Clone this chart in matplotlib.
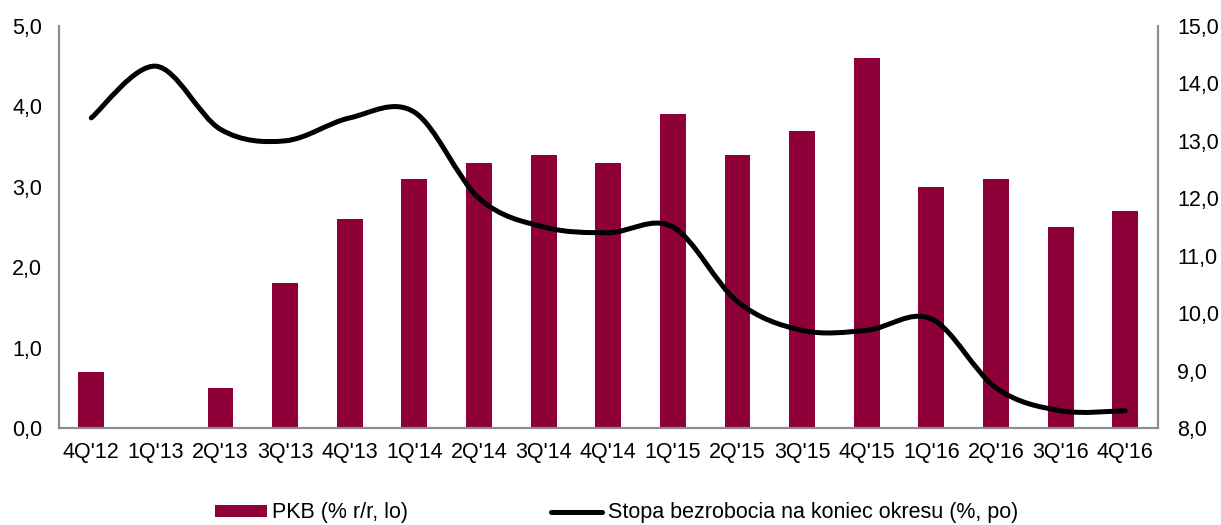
import matplotlib
matplotlib.use("Agg")
import matplotlib.pyplot as plt
from matplotlib.path import Path
from matplotlib.patches import PathPatch, Patch
from matplotlib.lines import Line2D
import numpy as np

plt.rcParams['font.family'] = ['Liberation Sans', 'DejaVu Sans']

categories = ["4Q'12", "1Q'13", "2Q'13", "3Q'13", "4Q'13", "1Q'14", "2Q'14", "3Q'14",
              "4Q'14", "1Q'15", "2Q'15", "3Q'15", "4Q'15", "1Q'16", "2Q'16", "3Q'16", "4Q'16"]
gdp = [0.7, 0.0, 0.5, 1.8, 2.6, 3.1, 3.3, 3.4, 3.3, 3.9, 3.4, 3.7, 4.6, 3.0, 3.1, 2.5, 2.7]
unemployment = [13.4, 14.3, 13.2, 13.0, 13.4, 13.5, 12.0, 11.5, 11.4, 11.5, 10.2, 9.7, 9.7, 9.9, 8.7, 8.3, 8.3]
left_ticks = [0, 1, 2, 3, 4, 5]
right_ticks = [8, 9, 10, 11, 12, 13, 14, 15]

bar_color = '#8E0038'
spine_color = '#8C8C8C'
fs = 15.5

fig = plt.figure(figsize=(12.21, 5.25), dpi=100)
ax = fig.add_axes([0.0483, 0.1848, 0.8997, 0.7657])
ax2 = ax.twinx()

x = np.arange(len(categories))
ax.bar(x, gdp, width=0.4, color=bar_color, zorder=2)
ax.set_xlim(-0.5, len(categories) - 0.5)
ax.set_ylim(0, 5)
ax.set_yticks(left_ticks)
ax.set_yticklabels([f"{v:.1f}".replace('.', ',') for v in left_ticks], fontsize=fs)
ax.set_xticks(x)
ax.set_xticklabels(categories, fontsize=fs)
ax.tick_params(length=0)
ax.tick_params(axis='x', pad=10)
ax.tick_params(axis='y', pad=12)

ax2.set_ylim(8, 15)
ax2.set_yticks(right_ticks)
ax2.set_yticklabels([f"{v:.1f}".replace('.', ',') for v in right_ticks], fontsize=fs)
ax2.tick_params(length=0, pad=14)

for a in (ax, ax2):
    a.spines['top'].set_visible(False)
    for s in ('left', 'right', 'bottom'):
        a.spines[s].set_color(spine_color)
        a.spines[s].set_linewidth(1.5)

# Excel-like smoothed line via cubic Bezier path
pts = np.column_stack([x, unemployment]).astype(float)
verts = [tuple(pts[0])]
codes = [Path.MOVETO]
n = len(pts)
for i in range(n - 1):
    p0 = pts[i - 1] if i > 0 else pts[i]
    p1 = pts[i]
    p2 = pts[i + 1]
    p3 = pts[i + 2] if i + 2 < n else pts[i + 1]
    c1 = p1 + (p2 - p0) / 6.0
    c2 = p2 - (p3 - p1) / 6.0
    verts += [tuple(c1), tuple(c2), tuple(p2)]
    codes += [Path.CURVE4] * 3
path = Path(verts, codes)
ax2.add_patch(PathPatch(path, fill=False, edgecolor='black', linewidth=3.6,
                        capstyle='round', joinstyle='round', zorder=3))

handles = [Patch(facecolor=bar_color, edgecolor='none'),
           Line2D([0], [0], color='black', linewidth=3.6, solid_capstyle='round')]
labels = ['PKB (% r/r, lo)', 'Stopa bezrobocia na koniec okresu (%, po)']
fig.legend(handles, labels, loc='center', bbox_to_anchor=(0.505, 0.023), ncol=2,
           frameon=False, fontsize=fs, handlelength=2.4, handletextpad=0.25,
           columnspacing=6.6, handleheight=0.45)

fig.savefig('out.png', dpi=100)
